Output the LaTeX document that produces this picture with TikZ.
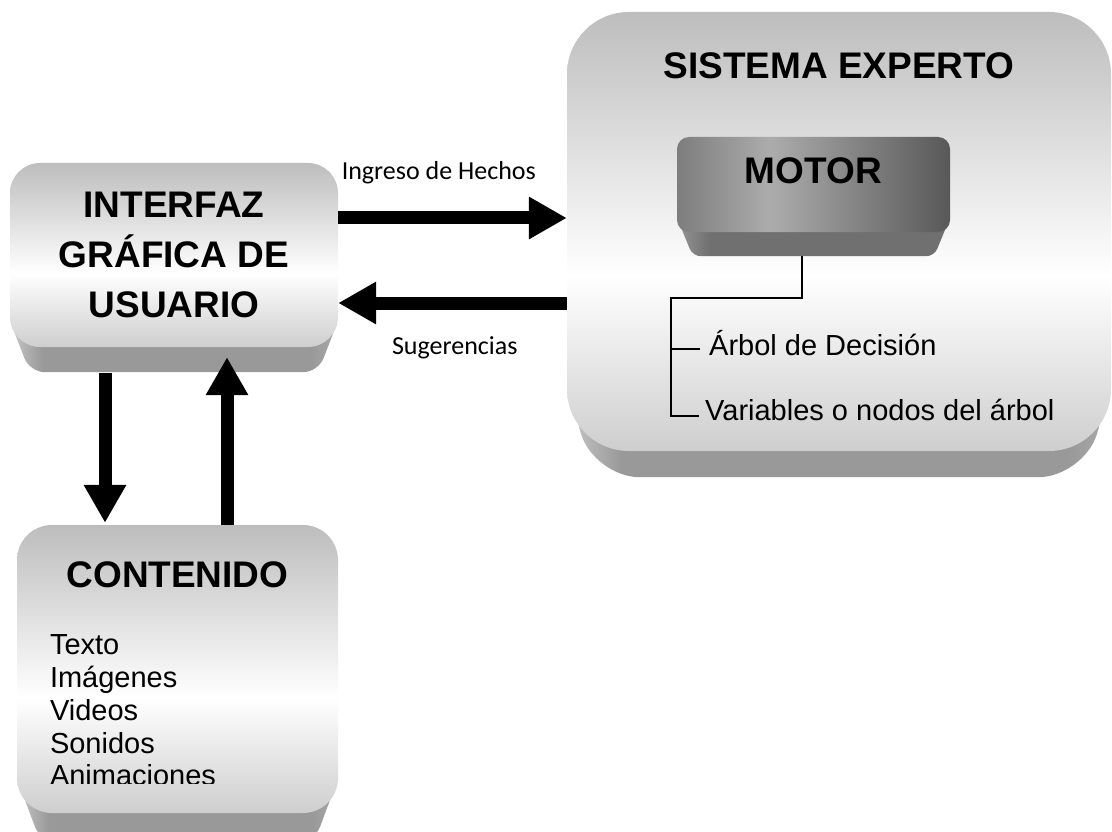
\documentclass[tikz,border=0pt]{standalone}
\usepackage{fontspec}
\setmainfont{Liberation Sans}
\newfontfamily\labelfont{Carlito}
\usetikzlibrary{positioning,arrows.meta,calc}

\definecolor{facetop}{RGB}{189,189,189}
\definecolor{facebottom}{RGB}{206,206,206}
\definecolor{bevelgray}{RGB}{153,153,153}
\definecolor{bevellight}{RGB}{200,200,200}
\definecolor{bevelright}{RGB}{170,170,170}
\definecolor{motorleft}{RGB}{125,125,125}
\definecolor{motorlight}{RGB}{172,172,172}
\definecolor{motorright}{RGB}{88,88,88}
\definecolor{motorbevel}{RGB}{112,112,112}
\definecolor{motorbevellight}{RGB}{150,150,150}

\pgfdeclareverticalshading{facegrad}{100bp}{color(0bp)=(facebottom); color(25bp)=(facebottom);
    color(45bp)=(white); color(75bp)=(facetop); color(100bp)=(facetop)}
\pgfdeclarehorizontalshading{motorgrad}{100bp}{color(0bp)=(motorleft); color(25bp)=(motorleft);
    color(42bp)=(motorlight); color(75bp)=(motorright); color(100bp)=(motorright)}
\pgfdeclarehorizontalshading{bevelgrad}{100bp}{color(0bp)=(bevellight); color(25bp)=(bevellight);
    color(30bp)=(bevelgray); color(71bp)=(bevelgray); color(75bp)=(bevelright); color(100bp)=(bevelright)}
\pgfdeclarehorizontalshading{motorbevelgrad}{100bp}{color(0bp)=(motorbevellight); color(25bp)=(motorbevellight);
    color(31bp)=(motorbevel); color(75bp)=(motorbevel); color(100bp)=(motorbevel)}

\pgfdeclarelayer{bevels}
\pgfdeclarelayer{front}
\pgfsetlayers{bevels,main,front}

\begin{document}
\begin{tikzpicture}[x=1pt, y=-1pt,
        face/.style={shade, shading=facegrad, inner sep=0pt},
        bevel/.style={shade, shading=bevelgrad},
        title/.style={font=\bfseries\fontsize{37}{50}\selectfont, inner sep=0pt, align=center},
        itemtext/.style={font=\fontsize{29}{32.7}\selectfont, inner sep=0pt, align=left},
        flowlabel/.style={font=\labelfont\fontsize{26}{30}\selectfont, inner sep=0pt},
        bigarrow/.style={line width=13pt, -{Triangle[length=38pt, width=40pt]}},
        branch/.style={line width=2pt}]

        % Page
        \useasboundingbox (0,0) rectangle (1112,832);

        % Boxes
        \node[face, title, rounded corners=30pt, minimum width=328pt, minimum height=184pt]
            (gui) at (174,255) {INTERFAZ\\GRÁFICA DE\\USUARIO};
        \node[face, rounded corners=62pt, minimum width=544pt, minimum height=439pt]
            (expert) at (839,231.5) {};
        \node[face, rounded corners=35pt, minimum width=321pt, minimum height=288pt]
            (content) at (177.5,669) {};

        % Motor, in front of the expert box
        \begin{pgfonlayer}{front}
            \node[shade, shading=motorgrad, rounded corners=12pt, minimum width=273pt,
                minimum height=95pt] (motor) at (813.5,184.5) {};
            \node[title, below=21pt of motor.north] (motortitle) {MOTOR};
        \end{pgfonlayer}

        % Bevels under the boxes
        \begin{pgfonlayer}{bevels}
            \path[bevel, rounded corners=15pt] ($(gui.south west)+(0,-27)$) --
                ($(gui.south west)+(20,25)$) -- ($(gui.south east)+(-20,25)$) --
                ($(gui.south east)+(0,-27)$) -- cycle;
            \path[bevel, rounded corners=45pt] ($(expert.south west)+(0,-62)$) --
                ($(expert.south west)+(28,26)$) -- ($(expert.south east)+(-28,26)$) --
                ($(expert.south east)+(0,-62)$) -- cycle;
            \path[bevel, rounded corners=20pt] ($(content.south west)+(0,-35)$) --
                ($(content.south west)+(25,32)$) -- ($(content.south east)+(-25,32)$) --
                ($(content.south east)+(0,-35)$) -- cycle;
        \end{pgfonlayer}
        \path[shade, shading=motorbevelgrad, rounded corners=8pt] ($(motor.south west)+(0,-15)$) --
            ($(motor.south west)+(16,24)$) -- ($(motor.south east)+(-16,24)$) --
            ($(motor.south east)+(0,-15)$) -- cycle;

        % Titles
        \node[title, below=41pt of expert.north] (experttitle) {SISTEMA EXPERTO};
        \node[title, below=37pt of content.north] (contenttitle) {CONTENIDO};

        % Content list, cut at the bottom
        \begin{scope}
            \clip (content.north west) rectangle ($(content.south east)+(0,-30)$);
            \node[itemtext, below right=110pt and 33pt of content.north west] (items)
                {Texto\\Imágenes\\Videos\\Sonidos\\Animaciones};
        \end{scope}

        % Tree under the motor
        \node[itemtext, anchor=base west] (tree1) at (709,355) {Árbol de Decisión};
        \node[itemtext, anchor=base west] (tree2) at (705,420) {Variables o nodos del árbol};
        \coordinate (fork) at (671,298);
        \draw[branch] ($(motor.south)+(-11.5,24)$) |- (fork) |- ($(tree2.base west)+(-6,-4)$);
        \draw[branch] ($(fork |- tree1.base)+(0,-6)$) -- ($(tree1.base west)+(-9,-6)$);

        % Arrows between the boxes
        \coordinate (factsrow) at (0,218);
        \coordinate (hintsrow) at (0,303);
        \draw[bigarrow] (gui.east |- factsrow) -- node[flowlabel, pos=0.44, above=28pt]
            (factslabel) {Ingreso de Hechos} (expert.west |- factsrow);
        \draw[bigarrow] (expert.west |- hintsrow) -- node[flowlabel, pos=0.49, below=27pt]
            (hintslabel) {Sugerencias} (gui.east |- hintsrow);
        \draw[bigarrow] ($(gui.south)+(-69,26)$) -- ($(content.north)+(-72.5,-2)$);
        \draw[bigarrow] ($(content.north)+(49.5,0)$) -- ($(gui.south)+(53,10)$);
\end{tikzpicture}
\end{document}
